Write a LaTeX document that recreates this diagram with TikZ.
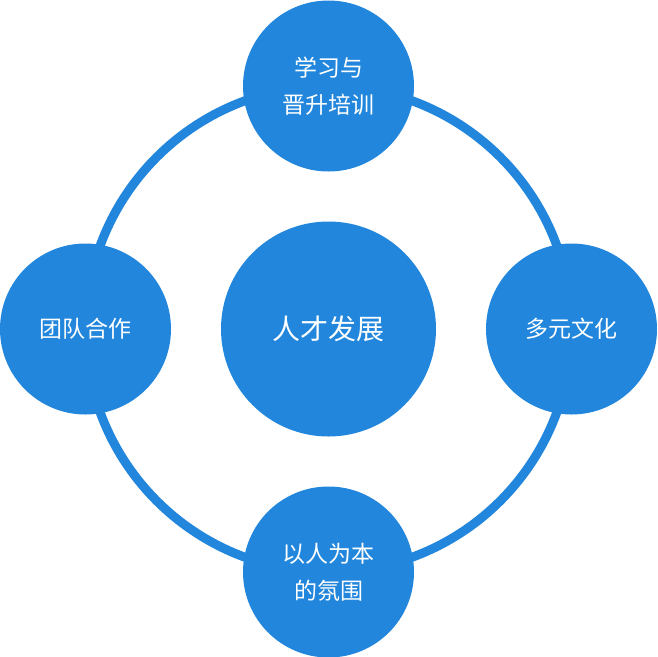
\documentclass[tikz,border=0pt]{standalone}
\usepackage{fontspec}
\setmainfont{Noto Sans CJK SC}
\definecolor{mainblue}{RGB}{33,134,220}
\begin{document}
\begin{tikzpicture}[x=1pt,y=-1pt,
  outer/.style={circle,fill=mainblue,minimum size=171pt,inner sep=0pt,text=white,align=center,font=\fontsize{23}{37}\selectfont},
  hub/.style={circle,fill=mainblue,minimum size=215pt,inner sep=0pt,text=white,font=\fontsize{28}{34}\selectfont}]
\useasboundingbox (0,0) rectangle (657,657);
\coordinate (c) at (328.5,329);
\draw[mainblue,line width=9pt] (c) circle[radius=243pt];
\node[hub] (center) at (c) {人才发展};
\node[outer] (top) at (328.5,86) {学习与\\晋升培训};
\node[outer] (bottom) at (328.5,572) {以人为本\\的氛围};
\node[outer] (left) at (85.5,329) {团队合作};
\node[outer] (right) at (571.5,329) {多元文化};
\end{tikzpicture}
\end{document}
